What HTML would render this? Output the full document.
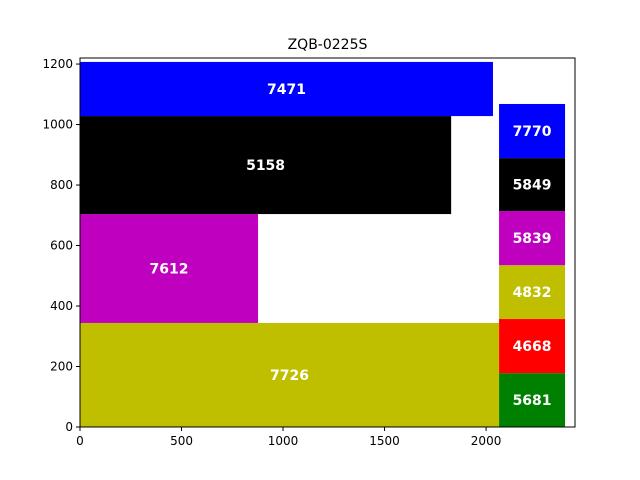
<!DOCTYPE html>
<html><head><meta charset="utf-8"><style>body{margin:0;background:#fff}svg{display:block;font-family:"DejaVu Sans","Liberation Sans",sans-serif}</style></head>
<body>
<svg id="c" width="640" height="480"></svg>
<script>
const leftLabels=[7726,7612,5158,7471];
const leftColors=['#bfbf00','#bf00bf','#000000','#0000ff'];
const leftX1=[2064,877,1828,2034];
const leftY0=[0,344,704,1028];
const leftY1=[344,704,1028,1207];
const rightLabels=[5681,4668,4832,5839,5849,7770];
const rightColors=['#008000','#ff0000','#bfbf00','#bf00bf','#000000','#0000ff'];
const rightBounds=[0,178,357,535,714,889,1068];
const rightX=[2064,2389];
const xTicks=[0,500,1000,1500,2000];
const yTicks=[0,200,400,600,800,1000,1200];
const L=80,R=575,T=58,B=427,XMAX=2438,YMAX=1220;
const sx=v=>L+v/XMAX*(R-L), sy=v=>B-v/YMAX*(B-T);
const svg=document.getElementById('c');const NS='http://www.w3.org/2000/svg';
function mk(t,a,p){const e=document.createElementNS(NS,t);for(const k in a)e.setAttribute(k,a[k]);(p||svg).appendChild(e);return e;}
function rect(x0,x1,y0,y1,col,lab,name){
 const r=mk('rect',{x:sx(x0),y:sy(y1),width:sx(x1)-sx(x0),height:sy(y0)-sy(y1),fill:col});
 
 
 const t=mk('text',{x:(sx(x0)+sx(x1))/2,y:(sy(y0)+sy(y1))/2+5,'text-anchor':'middle','font-size':'14','font-weight':'bold',fill:'#fff'});
 t.textContent=lab;
 
 
}
leftLabels.forEach((v,i)=>rect(0,leftX1[i],leftY0[i],leftY1[i],leftColors[i],v,'rect-'+v));
rightLabels.forEach((v,i)=>rect(rightX[0],rightX[1],rightBounds[i],rightBounds[i+1],rightColors[i],v,'rect-'+v));
const fr=mk('rect',{x:L,y:T,width:R-L,height:B-T,fill:'none',stroke:'#000','stroke-width':1});


xTicks.forEach(v=>{mk('line',{x1:sx(v),x2:sx(v),y1:B,y2:B+4,stroke:'#000'});
 const t=mk('text',{x:sx(v),y:B+18,'text-anchor':'middle','font-size':'12'});t.textContent=v;
 
 });
yTicks.forEach(v=>{mk('line',{x1:L-4,x2:L,y1:sy(v),y2:sy(v),stroke:'#000'});
 const t=mk('text',{x:L-7,y:sy(v)+4,'text-anchor':'end','font-size':'12'});t.textContent=v;
 
 });
const ti=mk('text',{x:(L+R)/2,y:49,'text-anchor':'middle','font-size':'14'});ti.textContent='ZQB-0225S';


</script>
</body></html>
